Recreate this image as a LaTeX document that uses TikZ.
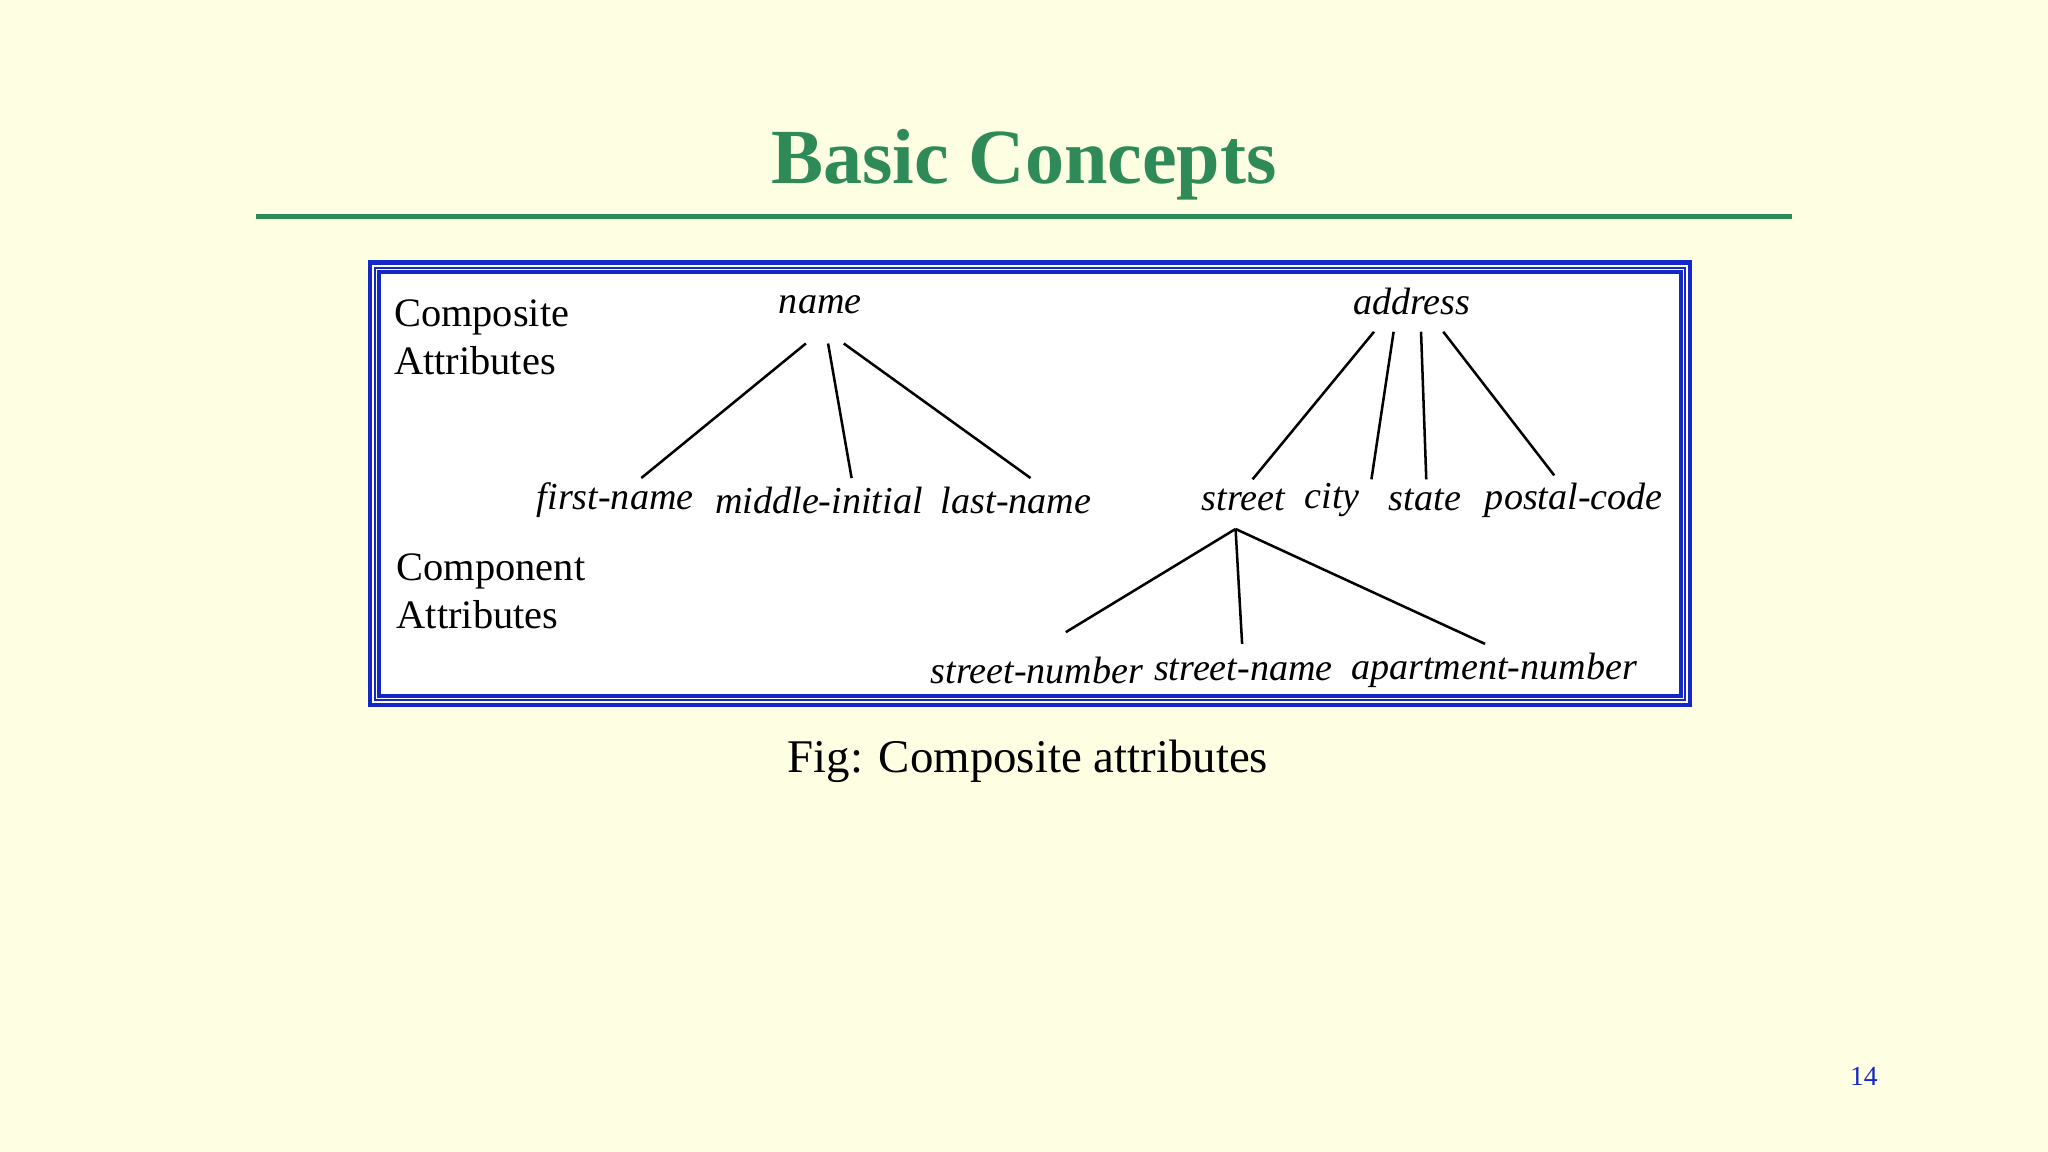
\documentclass[tikz,border=0pt]{standalone}
\usepackage{fontspec}
\setmainfont{Liberation Serif}
\definecolor{bg}{RGB}{254,254,226}
\definecolor{ttl}{RGB}{46,139,87}
\definecolor{bx}{RGB}{20,40,200}
\begin{document}
\begin{tikzpicture}[x=0.01cm,y=-0.01cm,
  attr/.style={font=\fontsize{8.3}{9}\selectfont\itshape,inner sep=0pt},
  lab/.style={font=\fontsize{8.8}{10.5}\selectfont,align=left,anchor=west,inner sep=0pt},
  edge/.style={line width=0.55pt}]
\fill[bg] (0,0) rectangle (1568,882);
\useasboundingbox (0,0) rectangle (1568,882);
\node[font=\fontsize{17}{20}\selectfont\bfseries,text=ttl] (title) at (784,126) {Basic Concepts};
\draw[ttl,line width=1.1pt] (196,166) -- (1372,166);
\fill[white] (283,201) rectangle (1294,540);
\draw[bx,line width=0.9pt] (283,201) rectangle (1294,540);
\draw[bx,line width=0.5pt] (287,205) rectangle (1290,536);
\draw[bx,line width=0.9pt] (290,208) rectangle (1287,533);
\node[lab] (comp) at (301,258) {Composite\\Attributes};
\node[lab] (cpt) at (303,453) {Component\\Attributes};
\node[attr] (name) at (628,233) {name};
\node[attr] (address) at (1081,231) {address};
\node[attr] (fn) at (471,383) {first-name};
\node[attr] (mi) at (627,383) {middle-initial};
\node[attr] (ln) at (778,383) {last-name};
\node[attr] (street) at (952,383) {street};
\node[attr] (city) at (1020,383) {city};
\node[attr] (state) at (1091,383) {state};
\node[attr] (pc) at (1205,383) {postal-code};
\node[attr] (sn) at (794,513) {street-number};
\node[attr] (sname) at (952,513) {street-name};
\node[attr] (an) at (1144,513) {apartment-number};
\coordinate (n1) at (617,263); \coordinate (n2) at (634,263); \coordinate (n3) at (646,263);
\coordinate (f1) at (491,366); \coordinate (m1) at (652,366); \coordinate (l1) at (789,366);
\coordinate (a1) at (1052,254); \coordinate (a2) at (1067,254); \coordinate (a3) at (1088,254); \coordinate (a4) at (1105,254);
\coordinate (s1) at (959,367); \coordinate (c1) at (1050,367); \coordinate (t1) at (1092,367); \coordinate (p1) at (1190,364);
\coordinate (sb) at (946,405);
\coordinate (sn1) at (816,484); \coordinate (snm1) at (951,493); \coordinate (an1) at (1137,493);
\draw[edge] (n1) -- (f1); \draw[edge] (n2) -- (m1); \draw[edge] (n3) -- (l1);
\draw[edge] (a1) -- (s1); \draw[edge] (a2) -- (c1); \draw[edge] (a3) -- (t1); \draw[edge] (a4) -- (p1);
\draw[edge] (sb) -- (sn1); \draw[edge] (sb) -- (snm1); \draw[edge] (sb) -- (an1);
\node[font=\fontsize{10.2}{12}\selectfont] (cap) at (787,583) {Fig: Composite attributes};
\node[font=\fontsize{6}{7}\selectfont,text=bx] (pg) at (1427,824) {14};
\end{tikzpicture}
\end{document}
